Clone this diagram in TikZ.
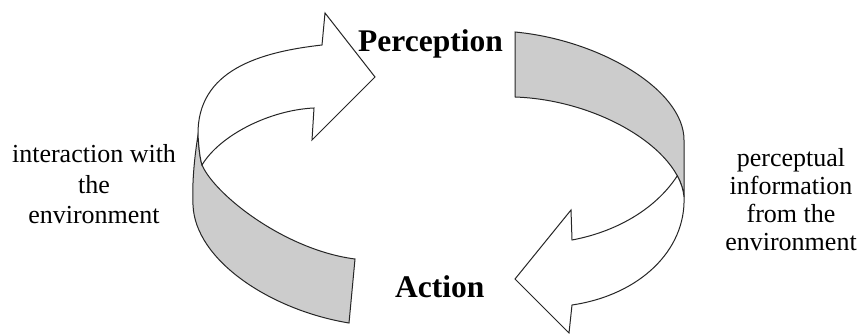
\documentclass[tikz,border=0pt]{standalone}
\usepackage{fontspec}
\setmainfont{Liberation Serif}
\definecolor{band}{RGB}{204,204,204}
\begin{document}
\begin{tikzpicture}[x=1pt,y=-1pt,
  ribbon/.style={draw=black!85, line width=1pt, line join=miter},
  lbl/.style={font=\fontsize{31.5}{36}\selectfont\bfseries, inner sep=0pt, anchor=base west},
  side/.style={font=\fontsize{26}{30}\selectfont, inner sep=0pt, anchor=base}]
\fill[white] (0,0) rectangle (861,334);
\useasboundingbox (0,0) rectangle (861,334);

% left ribbon: gray front band
\path[ribbon, fill=band] (198,135) .. controls (194,160) and (192,185) .. (193,205)
  .. controls (195,260) and (270,310) .. (349,323) -- (355,259)
  .. controls (285,250) and (215,195) .. (202,165)
  .. controls (200,158) and (199,150) .. (198,135) -- cycle;
% left ribbon: white arrow
\path[ribbon, fill=white] (198,135) .. controls (197,70) and (260,52) .. (322,45)
  -- (325,13) -- (375,77) -- (312,140) -- (314,108)
  .. controls (270,110) and (220,135) .. (202,165)
  .. controls (200,158) and (199,150) .. (198,135) -- cycle;

% right ribbon: gray back band
\path[ribbon, fill=band] (515,32) .. controls (600,40) and (684,90) .. (684,140)
  -- (684,197) .. controls (680,150) and (600,100) .. (515,97) -- cycle;
% right ribbon: white arrow
\path[ribbon, fill=white] (684,197) .. controls (686,250) and (640,295) .. (572,305)
  -- (569,333) -- (515,279) -- (571,210) -- (572,240)
  .. controls (615,232) and (655,210) .. (677.3,175.8)
  .. controls (681.1,182.8) and (683.4,190) .. (684,197) -- cycle;

% labels
\node[lbl] (perception) at (358,52) {Perception};
\node[lbl] (action) at (395,297) {Action};

\node[side] (l1) at (94,162) {interaction with};
\node[side] (l2) at (94,193) {the};
\node[side] (l3) at (94,223) {environment};

\node[side] (r1) at (791,166) {perceptual};
\node[side] (r2) at (791,194) {information};
\node[side] (r3) at (791,222) {from the};
\node[side] (r4) at (791,250) {environment};
\end{tikzpicture}
\end{document}
